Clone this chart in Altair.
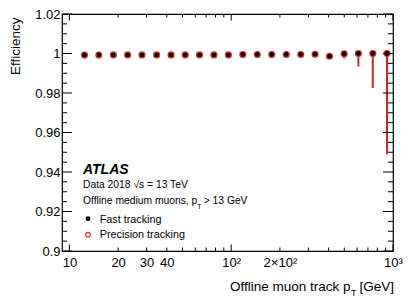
import altair as alt
import pandas as pd

# ---------------- data ----------------
pt = [12.4, 15.2, 18.7, 22.9, 28.1, 34.6, 42.5, 52.0, 63.7, 78.2, 96.1,
      118, 145, 178, 219, 269, 330, 405, 499, 611, 750, 918]
eff_fast = [0.9993, 0.9993, 0.9993, 0.9993, 0.9993, 0.9993, 0.9993, 0.9993, 0.9993, 0.9993, 0.9993,
            0.9995, 0.9995, 0.9995, 0.9995, 0.9995, 0.9996, 0.9986, 0.9999, 1.0, 1.0, 1.0]
eff_prec = [0.9992, 0.9992, 0.9993, 0.9993, 0.9993, 0.9993, 0.9993, 0.9993, 0.9993, 0.9993, 0.9993,
            0.9995, 0.9995, 0.9995, 0.9995, 0.9995, 0.9996, 0.9986, 0.9999, 1.0, 1.0, 1.0]
err_low = [0.9992, 0.9992, 0.9993, 0.9993, 0.9993, 0.9993, 0.9993, 0.9993, 0.9993, 0.9993, 0.9993,
           0.9995, 0.9995, 0.9995, 0.9995, 0.9995, 0.9996, 0.9986, 0.9975, 0.9934, 0.9825, 0.949]

x_label_values = [10, 20, 30, 40, 100, 200, 1000]
x_major = [10, 100, 1000]
x_minor = [20, 30, 40, 50, 60, 70, 80, 90, 200, 300, 400, 500, 600, 700, 800, 900]
y_major = [0.90, 0.92, 0.94, 0.96, 0.98, 1.00, 1.02]
y_minor = [0.905, 0.91, 0.915, 0.925, 0.93, 0.935, 0.945, 0.95, 0.955,
           0.965, 0.97, 0.975, 0.985, 0.99, 0.995, 1.005, 1.01, 1.015]

W, H = 331, 237
FONT = "Liberation Sans"
RED = "#e3242b"
BAR = "#cc2929"

df = pd.DataFrame({"pt": pt, "fast": eff_fast, "prec": eff_prec, "lo": err_low})

xs = alt.Scale(type="log", domain=[9, 1000], nice=False)
ys = alt.Scale(domain=[0.9, 1.02], nice=False, zero=False)

xaxis = alt.Axis(values=x_label_values,
                 labelExpr="datum.value == 100 ? '10²' : datum.value == 200 ? '2×10²' : datum.value == 1000 ? '10³' : format(datum.value, 'd')",
                 ticks=False, domain=False, grid=False, labelFont=FONT, labelFontSize=13,
                 labelColor="black", labelPadding=5, labelOverlap=False, labelFlush=False,
                 labelBound=False, title=None)
yaxis = alt.Axis(values=y_major, format="~g", ticks=False, domain=False, grid=False,
                 labelFont=FONT, labelFontSize=13, labelColor="black", labelPadding=2,
                 labelOverlap=False, labelFlush=False, labelBound=False,
                 title="Efficiency", titleFont=FONT, titleFontSize=13.5, titleFontWeight="normal",
                 titleColor="black", titleAngle=-90, titleAlign="right", titleBaseline="middle",
                 titleX=-47, titleY=3)

X = lambda f: alt.X(f, scale=xs, axis=xaxis)
Y = lambda f: alt.Y(f, scale=ys, axis=yaxis)

bars = alt.Chart(df).mark_rule(color=BAR, strokeWidth=2).encode(
    x=X("pt:Q"), y=Y("lo:Q"), y2="prec:Q")
open_pts = alt.Chart(df).mark_point(shape="circle", filled=False, color=RED, size=34,
                                    strokeWidth=1.3, opacity=1).encode(
    x=X("pt:Q"), y=Y("prec:Q"))
fill_pts = alt.Chart(df).mark_circle(color="black", size=24, opacity=1).encode(
    x=X("pt:Q"), y=Y("fast:Q"))


def xticks(vals, y0, y1):
    return alt.Chart(pd.DataFrame({"v": vals})).mark_rule(color="black", strokeWidth=1).encode(
        x=X("v:Q"), y=alt.value(y0), y2=alt.value(y1))


def yticks(vals, x0, x1):
    return alt.Chart(pd.DataFrame({"v": vals})).mark_rule(color="black", strokeWidth=1).encode(
        y=Y("v:Q"), x=alt.value(x0), x2=alt.value(x1))


tick_layers = [
    xticks(x_major, H, H - 6.5), xticks(x_minor, H, H - 3.5),
    xticks(x_major, 0, 6.5), xticks(x_minor, 0, 3.5),
    yticks(y_major, 0, 10), yticks(y_minor, 0, 5),
    yticks(y_major, W, W - 10), yticks(y_minor, W, W - 5),
]


def label(txt, x, y, size, align="left", **kw):
    return alt.Chart(pd.DataFrame({"t": [txt]})).mark_text(
        align=align, baseline="alphabetic", font=FONT, fontSize=size, color="black", **kw
    ).encode(text="t:N", x=alt.value(x), y=alt.value(y))


texts = [
    label("ATLAS", 21, 159.7, 14, fontStyle="italic", fontWeight="bold"),
    label("Data 2018 √s = 13 TeV", 21, 174.2, 10.3),
    label("Offline medium muons, p", 21, 190.2, 10.3),
    label("T", 135, 194.5, 7.5),
    label("> 13 GeV", 141.7, 190.2, 10.3),
    label("Fast tracking", 37.7, 208.7, 10.8),
    label("Precision tracking", 37.7, 224.2, 10.8),
    label("Offline muon track p", 288.5, 277.4, 13.5, align="right"),
    label("T", 289, 281.5, 9),
    label("[GeV]", 332, 277.4, 13.5, align="right"),
]

leg_fast = alt.Chart(pd.DataFrame({"t": ["Fast tracking"]})).mark_circle(
    color="black", size=22, opacity=1).encode(x=alt.value(26), y=alt.value(204.7))
leg_prec = alt.Chart(pd.DataFrame({"t": ["Precision tracking"]})).mark_point(
    shape="circle", filled=False, color=RED, size=22, strokeWidth=1.2, opacity=1).encode(
    x=alt.value(26), y=alt.value(220.7))

chart = alt.layer(bars, open_pts, fill_pts, *tick_layers, *texts, leg_fast, leg_prec).properties(
    width=W, height=H,
    autosize=alt.AutoSizeParams(type="none"),
    padding={"left": 54, "top": 6, "right": 14, "bottom": 45},
    background="white",
).configure_view(stroke="black", strokeWidth=1.2)

chart.save("out.html", embed_options={"renderer": "svg", "actions": False})
